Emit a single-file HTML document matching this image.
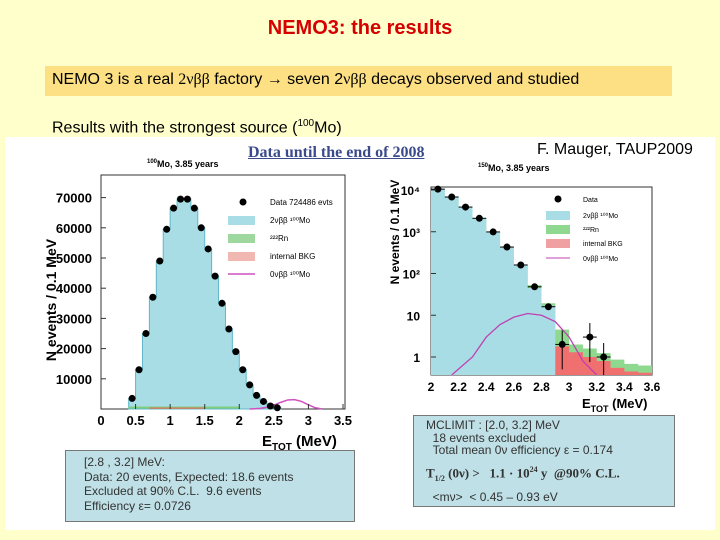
<!DOCTYPE html>
<html><head><meta charset="utf-8"><style>
body{margin:0;width:720px;height:540px;background:#FFFFCC;position:relative;overflow:hidden;font-family:"Liberation Sans",sans-serif}
.abs{position:absolute}
</style></head><body>
<div class="abs" style="left:0;width:720px;top:17px;text-align:center;font-weight:bold;font-size:20px;color:#D50000">NEMO3: the results</div>
<div class="abs" style="left:45px;top:66px;width:627px;height:30px;background:#FCE083"></div>
<div class="abs" style="left:52px;top:71px;font-size:16px;color:#000">NEMO 3 is a real <span style="font-family:'Liberation Serif',serif">2νββ</span> factory → seven 2<span style="font-family:'Liberation Serif',serif">νββ</span> decays observed and studied</div>
<div class="abs" style="left:52px;top:118px;font-size:16px">Results with the strongest source (<sup style="font-size:10px">100</sup>Mo)</div>
<div class="abs" style="left:5px;top:137px;width:710px;height:393px;background:#fff"></div>
<div class="abs" style="left:248px;top:144px;font-family:'Liberation Serif',serif;font-weight:bold;font-size:16px;color:#3a4a8a;text-decoration:underline">Data until the end of 2008</div>
<div class="abs" style="left:537px;top:141px;font-size:16px">F. Mauger, TAUP2009</div>
<svg class="abs" style="left:0;top:0" width="720" height="540">
<g id="left"></g>
<g id="right"></g>
</svg>
<div class="abs" style="left:65px;top:450px;width:290px;height:72px;background:#BFE0E6;border:1px solid #777;box-sizing:border-box;padding:4px 0 0 18px;font-size:12px;line-height:14.5px;color:#333">[2.8 , 3.2] MeV:<br>Data: 20 events, Expected: 18.6 events<br>Excluded at 90% C.L.&nbsp; 9.6 events<br>Efficiency ε= 0.0726</div>
<div class="abs" style="left:413px;top:415px;width:262px;height:92px;background:#BFE0E6;border:1px solid #777;box-sizing:border-box;padding:3px 0 0 12px;font-size:12px;line-height:12.5px;color:#333;overflow:hidden">MCLIMIT : [2.0, 3.2] MeV<br>&nbsp;&nbsp;18 events excluded<br>&nbsp;&nbsp;Total mean 0ν efficiency ε = 0.174<div style="font-family:'Liberation Serif',serif;font-weight:bold;font-size:13px;margin-top:7px">T<sub style="font-size:8px">1/2</sub> (0ν) &gt;&nbsp;&nbsp; 1.1 · 10<sup style="font-size:8px">24</sup> y&nbsp; @90% C.L.</div><div style="margin-top:6px">&nbsp;&nbsp;&lt;mν&gt;&nbsp; &lt; 0.45 – 0.93 eV</div></div>
<script>
const leftCenters=[0.45,0.55,0.65,0.75,0.85,0.95,1.05,1.15,1.25,1.35,1.45,1.55,1.65,1.75,1.85,1.95,2.05,2.15,2.25,2.35,2.45,2.55];
const leftData=[3500,13000,25000,37000,49000,59500,66500,69500,69500,66500,60000,53000,44000,35000,26500,19000,13000,8000,4500,2500,1000,400];
const leftXTicks=[0,0.5,1,1.5,2,2.5,3,3.5];
const leftYTicks=[10000,20000,30000,40000,50000,60000,70000];
const zeroNuE=[2.15,2.3,2.4,2.5,2.6,2.7,2.8,2.9,3.0,3.1,3.2];
const zeroNuLin=[0,200,600,1300,2200,3000,3100,2500,1400,400,0];
const rightCenters=[2.05,2.15,2.25,2.35,2.45,2.55,2.65,2.75,2.85,2.95,3.05,3.15,3.25,3.35,3.45,3.55];
const rightMC=[10500,6800,3900,2100,990,430,160,45,17,4,1.6,1.3,1.0,0.7,0.55,0.5];
const rightBkg=[0,0,0,0,0,0,0,25,8,1.8,1.3,1.0,0.8,0.55,0.45,0.42];
const rightData=[10500,6800,3900,2100,990,430,160,48,16,2,null,3,1];
const rightXTicks=[2,2.2,2.4,2.6,2.8,3,3.2,3.4,3.6];
const rightYTicks=[[1,'1'],[10,'10'],[100,'10²'],[1000,'10³'],[10000,'10⁴']];
const zeroNuLog=[0.3,1,3,6,9,11,10,7,3,0.8,0.2];
const NS='http://www.w3.org/2000/svg';
function mk(p,t,a){const e=document.createElementNS(NS,t);for(const k in a)e.setAttribute(k,a[k]);p.appendChild(e);return e;}
const L=document.getElementById('left');
const lx=v=>101+v*(343-101)/3.5, ly=v=>409-v*30.2/10000;
mk(L,'rect',{x:101,y:175,width:244,height:234,fill:'#fff',stroke:'#333'});
let d='M'+lx(0.4)+' '+ly(0);
leftCenters.forEach((c,i)=>{d+=' L'+lx(c-0.05)+' '+ly(leftData[i])+' L'+lx(c+0.05)+' '+ly(leftData[i]);});
d+=' L'+lx(2.6)+' '+ly(0)+'Z';
const lh=mk(L,'path',{d:d,fill:'#A8DDE6',stroke:'#5fb8c8'});
mk(L,'line',{x1:lx(0.4),x2:lx(2.0),y1:ly(500),y2:ly(500),stroke:'#7fcf7f','stroke-width':2});
mk(L,'line',{x1:lx(0.7),x2:lx(1.5),y1:ly(300),y2:ly(300),stroke:'#d08060','stroke-width':1.5});
const lc=mk(L,'path',{d:'M'+zeroNuE.map((e,i)=>lx(e)+' '+ly(zeroNuLin[i])).join(' L'),fill:'none',stroke:'#d050c0','stroke-width':1.5});

leftCenters.forEach((c,i)=>{const p=mk(L,'circle',{cx:lx(c),cy:ly(leftData[i]),r:3.5,fill:'#000'});
});
leftXTicks.forEach(t=>{mk(L,'line',{x1:lx(t),x2:lx(t),y1:409,y2:404,stroke:'#333'});
const tx=mk(L,'text',{x:lx(t),y:425,'text-anchor':'middle','font-size':13,'font-weight':'bold'});tx.textContent=t;});
leftYTicks.forEach(t=>{mk(L,'line',{x1:101,x2:106,y1:ly(t),y2:ly(t),stroke:'#333'});
const tx=mk(L,'text',{x:92,y:ly(t)+5,'text-anchor':'end','font-size':13,'font-weight':'bold'});tx.textContent=t;});
let t1=mk(L,'text',{x:262,y:446,'font-size':15,'font-weight':'bold'});t1.innerHTML='E<tspan font-size="10" dy="4">TOT</tspan><tspan dy="-4"> (MeV)</tspan>';
let t2=mk(L,'text',{x:56,y:300,'font-size':14,'font-weight':'bold','text-anchor':'middle',transform:'rotate(-90 56 300)'});t2.textContent='N events / 0.1 MeV';
let t3=mk(L,'text',{x:147,y:167,'font-size':9,'font-weight':'bold'});t3.innerHTML='<tspan font-size="6" dy="-4">100</tspan><tspan dy="4">Mo, 3.85 years</tspan>';
mk(L,'circle',{cx:243,cy:202,r:3.5,fill:'#000'});
[['#A8DDE6',220],['#9fd89f',238],['#f0b8b0',256]].forEach(a=>mk(L,'rect',{x:228,y:a[1]-4,width:27,height:9,fill:a[0]}));
mk(L,'line',{x1:228,x2:255,y1:274,y2:274,stroke:'#d050c0','stroke-width':1.5});
[['Data 724486 evts',205],['2νββ ¹⁰⁰Mo',223],['²²²Rn',241],['internal BKG',259],['0νββ ¹⁰⁰Mo',277]].forEach(a=>{const t=mk(L,'text',{x:270,y:a[1],'font-size':8});t.textContent=a[0];});
const R=document.getElementById('right');
const rx=v=>431+(v-2)*(652-431)/1.6, ry=v=>357-Math.log10(v)*41.75;
mk(R,'rect',{x:431,y:187,width:221,height:188,fill:'#fff',stroke:'#333'});
function step(arr){let s='M'+rx(2)+' 375';rightCenters.forEach((c,i)=>{const v=Math.max(arr[i],0.35);const y=Math.min(ry(v),375);s+=' L'+rx(c-0.05)+' '+y+' L'+rx(c+0.05)+' '+y;});return s+' L'+rx(3.6)+' 375Z';}
const tot=rightMC.map((v,i)=>v+rightBkg[i]*0.3);
mk(R,'path',{d:step(tot),fill:'#8fd88f'});
const mcOnly=rightMC.map((v,i)=>rightCenters[i]<2.95?v:0.35);
const rh=mk(R,'path',{d:step(mcOnly),fill:'#A8DDE6'});
const bk=rightBkg.map((v,i)=>rightCenters[i]>=2.95?v:0.35);
mk(R,'path',{d:step(bk),fill:'#f07070'});
const rc=mk(R,'path',{d:'M'+zeroNuE.map((e,i)=>rx(e)+' '+Math.min(ry(zeroNuLog[i]),375)).join(' L'),fill:'none',stroke:'#c040b0','stroke-width':1.3});

rightData.forEach((v,i)=>{if(v==null)return;const c=rightCenters[i];
mk(R,'line',{x1:rx(c-0.05),x2:rx(c+0.05),y1:ry(v),y2:ry(v),stroke:'#000'});
if(v<5)mk(R,'line',{x1:rx(c),x2:rx(c),y1:ry(v)-14,y2:Math.min(ry(v)+25,375),stroke:'#000'});
const p=mk(R,'circle',{cx:rx(c),cy:ry(v),r:3.5,fill:'#000'});
});
rightXTicks.forEach(t=>{const tx=mk(R,'text',{x:rx(t),y:391,'text-anchor':'middle','font-size':12,'font-weight':'bold'});tx.textContent=t;});
rightYTicks.forEach(a=>{mk(R,'line',{x1:431,x2:436,y1:ry(a[0]),y2:ry(a[0]),stroke:'#333'});const tx=mk(R,'text',{x:420,y:ry(a[0])+5,'text-anchor':'end','font-size':12,'font-weight':'bold'});tx.textContent=a[1];});
let t4=mk(R,'text',{x:582,y:408,'font-size':13,'font-weight':'bold'});t4.innerHTML='E<tspan font-size="9" dy="4">TOT</tspan><tspan dy="-4"> (MeV)</tspan>';
let t5=mk(R,'text',{x:399,y:232,'font-size':12,'font-weight':'bold','text-anchor':'middle',transform:'rotate(-90 399 232)'});t5.textContent='N events / 0.1 MeV';
let t6=mk(R,'text',{x:478,y:171,'font-size':9,'font-weight':'bold'});t6.innerHTML='<tspan font-size="6" dy="-4">150</tspan><tspan dy="4">Mo, 3.85 years</tspan>';
mk(R,'circle',{cx:558,cy:199,r:3.5,fill:'#000'});
[['#A8DDE6',215],['#8fd88f',229],['#f0a0a0',243]].forEach(a=>mk(R,'rect',{x:546,y:a[1]-4,width:24,height:9,fill:a[0]}));
mk(R,'line',{x1:546,x2:570,y1:258,y2:258,stroke:'#c040b0'});
[['Data',202],['2νββ ¹⁰⁰Mo',218],['²²²Rn',232],['internal BKG',246],['0νββ ¹⁰⁰Mo',261]].forEach(a=>{const t=mk(R,'text',{x:583,y:a[1],'font-size':7});t.textContent=a[0];});
</script>
</body></html>
